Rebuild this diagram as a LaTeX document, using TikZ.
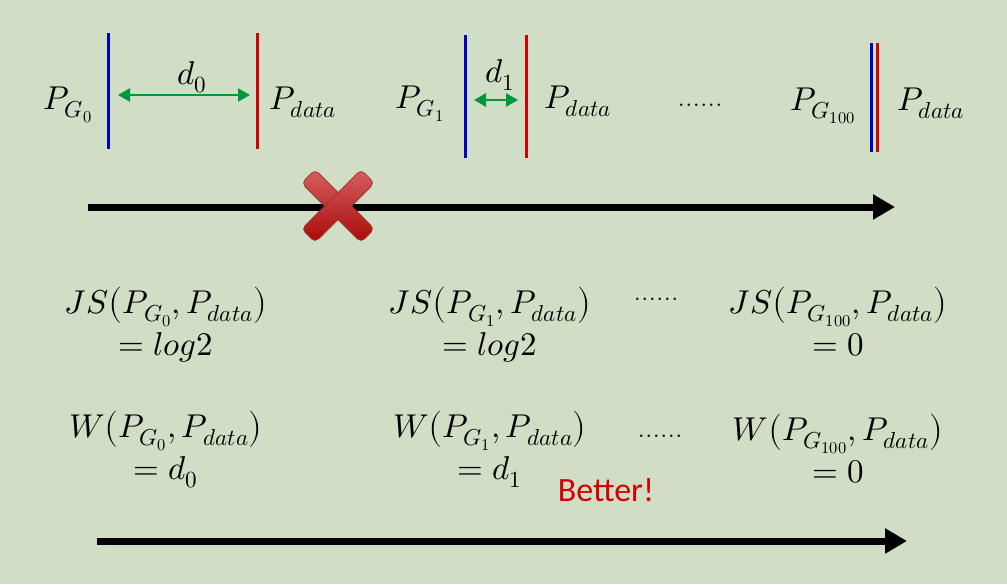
\documentclass[tikz,border=0pt]{standalone}
\usepackage{fontspec}
\usepackage{unicode-math}
\setmathfont{Latin Modern Math}
\newfontfamily\sansfont{Carlito}
\usetikzlibrary{arrows.meta}
\definecolor{bg}{RGB}{207,222,196}
\definecolor{gblue}{RGB}{0,0,200}
\definecolor{gred}{RGB}{210,0,0}
\definecolor{darr}{RGB}{0,150,60}
\definecolor{xred}{RGB}{200,10,10}
\definecolor{xlight}{RGB}{215,95,95}
\definecolor{xdark}{RGB}{130,0,0}
\newcommand{\lpar}{\smash{\big(}}
\newcommand{\rpar}{\smash{\big)}}
\tikzset{
  mt/.style={font=\fontsize{33}{40}\selectfont, inner sep=0pt, anchor=base},
  mt2/.style={font=\fontsize{33}{42}\selectfont, inner sep=0pt, align=center, anchor=base},
  dt/.style={font=\fontsize{30}{36}\selectfont, inner sep=0pt, anchor=base},
  bline/.style={draw=gblue, line width=3pt},
  rline/.style={draw=gred, line width=3pt},
  darrow/.style={draw=darr, line width=2.5pt, {Triangle[length=12pt,width=13pt]}-{Triangle[length=12pt,width=13pt]}},
  bigarrow/.style={draw=black, line width=7pt, -{Triangle[length=22pt,width=24pt]}},
  xarm/.style={draw=xdark!80, line width=0.8pt, rounded corners=5pt, minimum width=84pt, minimum height=19pt, inner sep=0pt, top color=xlight, bottom color=xred!85!black, shading angle=0},
}
\begin{document}
\begin{tikzpicture}[x=1pt,y=-1pt]
\fill[bg] (0,0) rectangle (1007,584);
\useasboundingbox (0,0) rectangle (1007,584);
% group 0
\coordinate (b0t) at (108,33); \coordinate (b0b) at (108,149);
\coordinate (r0t) at (257,33); \coordinate (r0b) at (257,149);
\draw[bline] (b0t) -- (b0b);
\draw[rline] (r0t) -- (r0b);
\coordinate (a0l) at (118,95); \coordinate (a0r) at (250,95);
\draw[darrow] (a0l) -- (a0r);
\node[mt] (d0) at (192,84) {$d_0$};
\node[mt] (pg0) at (68,109) {$P_{G_0}$};
\node[mt] (pd0) at (303,109) {$P_{data}$};
% group 1
\coordinate (b1t) at (465,35); \coordinate (b1b) at (465,158);
\coordinate (r1t) at (526,35); \coordinate (r1b) at (526,158);
\draw[bline] (b1t) -- (b1b);
\draw[rline] (r1t) -- (r1b);
\coordinate (a1l) at (474,100); \coordinate (a1r) at (518,100);
\draw[darrow] (a1l) -- (a1r);
\node[mt] (d1) at (500,82) {$d_1$};
\node[mt] (pg1) at (420,108) {$P_{G_1}$};
\node[mt] (pd1) at (578,108) {$P_{data}$};
\node[dt] (dots0) at (700,106) {......};
% group 100
\coordinate (b2t) at (871,43); \coordinate (b2b) at (871,152);
\coordinate (r2t) at (877,43); \coordinate (r2b) at (877,152);
\draw[bline] (b2t) -- (b2b);
\draw[rline] (r2t) -- (r2b);
\node[mt] (pg2) at (823,110) {$P_{G_{100}}$};
\node[mt] (pd2) at (931,110) {$P_{data}$};
% top arrow
\coordinate (t1) at (88,207); \coordinate (t2) at (895,207);
\draw[bigarrow] (t1) -- (t2);
% red X
\node[xarm, rotate=-45] (xa) at (338,206) {};
\node[xarm, rotate=45] (xb) at (338,206) {};
% JS row
\node[mt2] (js0) at (166,355) {$JS\lpar P_{G_0},P_{data}\rpar$\\$=log2$};
\node[mt2] (js1) at (490,355) {$JS\lpar P_{G_1},P_{data}\rpar$\\$=log2$};
\node[dt] (dots1) at (656,300) {......};
\node[mt2] (js2) at (838,355) {$JS\lpar P_{G_{100}},P_{data}\rpar$\\$=0$};
% W row
\node[mt2] (w0) at (166,479) {$W\lpar P_{G_0},P_{data}\rpar$\\$=d_0$};
\node[mt2] (w1) at (490,479) {$W\lpar P_{G_1},P_{data}\rpar$\\$=d_1$};
\node[dt] (dots2) at (660,437) {......};
\node[mt2] (w2) at (838,482) {$W\lpar P_{G_{100}},P_{data}\rpar$\\$=0$};
\node[font=\sansfont\fontsize{34}{40}\selectfont, text=gred, inner sep=0pt] (better) at (606,490) {Better!};
% bottom arrow
\coordinate (u1) at (97,541); \coordinate (u2) at (907,541);
\draw[bigarrow] (u1) -- (u2);
\end{tikzpicture}
\end{document}
